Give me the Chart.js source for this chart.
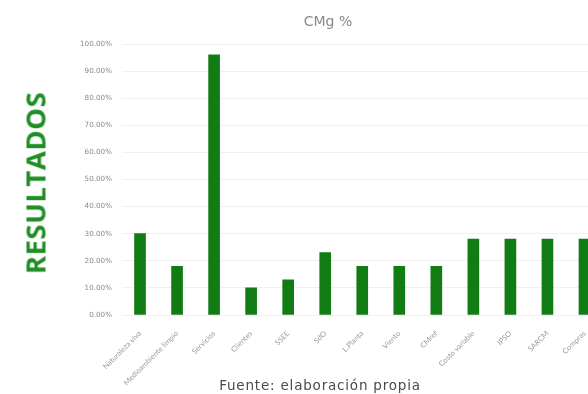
<!DOCTYPE html>
<html>
<head>
<meta charset="utf-8">
<script src="https://cdn.jsdelivr.net/npm/chart.js@4/dist/chart.umd.min.js"></script>
<style>
  html, body { margin: 0; padding: 0; background: #fff; overflow: hidden; }
  body { width: 588px; height: 394px; position: relative; }
  #wrap { position: absolute; left: 0; top: 0; width: 610px; height: 394px; }
  #side {
    position: absolute; left: 35px; top: 183px;
    transform: translate(-50%, -50%) rotate(-90deg);
    font-family: "Open Sans", sans-serif; font-weight: 700; font-size: 27.5px;
    color: #1f8f25; letter-spacing: 0.5px; white-space: nowrap;
  }
  #source {
    position: absolute; left: 320px; top: 385px;
    transform: translate(-50%, -50%);
    font-family: "DejaVu Sans", sans-serif; font-size: 13.5px; letter-spacing: 0.8px;
    color: #4a4a4a; white-space: nowrap;
  }
</style>
</head>
<body>
<div id="wrap"><canvas id="c" width="610" height="394"></canvas></div>
<div id="side">RESULTADOS</div>
<div id="source">Fuente: elaboración propia</div>
<script>
// Categories and CMg share (%) per category
const categories = [
  "Naturaleza viva", "Medioambiente limpio", "Servicios", "Clientes", "SSEE", "SdO",
  "L.Planta", "Viento", "CMref", "Costo variable", "IPSO", "SARCM", "Compras"
];
const cmgValues = [30, 18, 96, 10, 13, 23, 18, 18, 18, 28, 28, 28, 28];
const yTicks = [0, 10, 20, 30, 40, 50, 60, 70, 80, 90, 100];

new Chart(document.getElementById('c'), {
  type: 'bar',
  data: {
    labels: categories,
    datasets: [{
      label: 'CMg %',
      data: cmgValues,
      backgroundColor: '#127c14',
      borderWidth: 0,
      barThickness: 11
    }]
  },
  options: {
    responsive: false,
    animation: false,
    layout: { padding: { left: 53, right: 7, top: 0, bottom: 0 } },
    plugins: {
      legend: { display: false },
      tooltip: { enabled: false },
      title: {
        display: true,
        text: 'CMg %',
        color: '#8a8a8a',
        font: { family: 'DejaVu Sans', size: 14, weight: 'normal' },
        padding: { top: 13.6, bottom: 13.6 }
      }
    },
    scales: {
      x: {
        grid: { display: false },
        border: { display: false },
        ticks: {
          color: '#9a9a9a',
          font: { family: 'Lato', size: 7.5 },
          minRotation: 45, maxRotation: 45,
          autoSkip: false, padding: 6
        },
        afterFit: (s) => { s.height = 79; }
      },
      y: {
        min: 0, max: 100,
        afterBuildTicks: (s) => { s.ticks = yTicks.map(v => ({ value: v })); },
        grid: { color: 'rgba(0,0,0,0.06)', drawTicks: false },
        border: { display: false },
        ticks: {
          color: '#8a8a8a',
          font: { family: 'DejaVu Sans', size: 7.2 },
          padding: 9.5,
          callback: (v) => v.toFixed(2) + '%'
        },
        afterFit: (s) => { s.width = 68.5; }
      }
    }
  }
});
</script>
</body>
</html>
